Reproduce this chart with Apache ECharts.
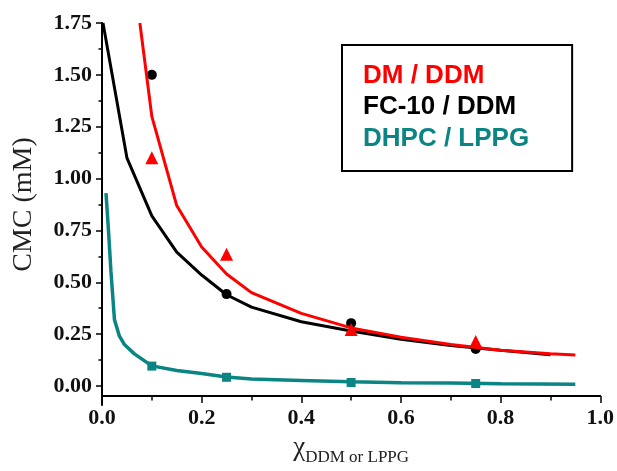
<!DOCTYPE html>
<html>
<head>
<meta charset="utf-8">
<script src="https://cdn.jsdelivr.net/npm/echarts@6/dist/echarts.min.js"></script>
<style>html,body{margin:0;padding:0;background:#fff}#c{width:617px;height:471px}</style>
</head>
<body>
<div id="c"></div>
<script>
// ---- data ----
var legendNames = ['DM / DDM', 'FC-10 / DDM', 'DHPC / LPPG'];

// fitted curves [x, CMC]
var dmLine = [[0.076,1.75],[0.1,1.30],[0.15,0.87],[0.2,0.67],[0.25,0.54],[0.3,0.45],[0.4,0.35],[0.5,0.28],[0.6,0.235],[0.7,0.2],[0.8,0.172],[0.9,0.155],[0.95,0.15]];
var fcLine = [[0.002,1.75],[0.05,1.10],[0.1,0.82],[0.15,0.645],[0.2,0.535],[0.25,0.44],[0.3,0.38],[0.4,0.31],[0.5,0.265],[0.6,0.225],[0.7,0.195],[0.8,0.172],[0.9,0.151]];
var dhpcLine = [[0.008,0.93],[0.013,0.75],[0.018,0.55],[0.025,0.32],[0.035,0.24],[0.045,0.2],[0.065,0.155],[0.1,0.097],[0.15,0.075],[0.2,0.06],[0.25,0.043],[0.3,0.034],[0.4,0.027],[0.5,0.02],[0.6,0.016],[0.7,0.014],[0.8,0.011],[0.95,0.009]];

// measured points
var dmPts = [[0.1,1.10],[0.25,0.635],[0.5,0.272],[0.75,0.215]];
var fcPts = [[0.1,1.50],[0.25,0.443],[0.5,0.303],[0.75,0.178]];
var dhpcPts = [[0.1,0.096],[0.25,0.042],[0.5,0.017],[0.75,0.012]];

var yTicks = {min: 0, max: 1.75, interval: 0.25};
var xTicks = {min: 0, max: 1.0, interval: 0.2};

var RED = '#ff0000', BLACK = '#000000', TEAL = '#0b8583';
var serif = '"Liberation Serif", "Times New Roman", serif';
var sans = '"Liberation Sans", Arial, sans-serif';

var chart = echarts.init(document.getElementById('c'));
chart.setOption({
  animation: false,
  backgroundColor: '#ffffff',
  grid: [
    {left: 102, right: 16, top: 23, bottom: 76},
    {left: 102, right: 16, top: 23, bottom: 66}
  ],
  legend: {
    show: true,
    data: [
      {name: legendNames[0], textStyle: {color: RED}},
      {name: legendNames[1], textStyle: {color: BLACK}},
      {name: legendNames[2], textStyle: {color: TEAL}}
    ],
    orient: 'vertical',
    left: 342, top: 45,
    itemWidth: 0, itemHeight: 0,
    itemGap: 5.5,
    selectedMode: false,
    padding: [17.5, 43, 19.5, 15],
    borderColor: '#000', borderWidth: 2,
    textStyle: {fontFamily: sans, fontWeight: 'bold', fontSize: 26}
  },
  xAxis: [{
    gridIndex: 0, type: 'value', min: xTicks.min, max: xTicks.max, interval: xTicks.interval,
    offset: 10,
    axisLine: {onZero: false, lineStyle: {color: '#000', width: 2}},
    axisTick: {show: true, inside: false, length: 7, lineStyle: {color: '#000', width: 1.5}},
    minorTick: {show: true, splitNumber: 2, length: 4.5, lineStyle: {color: '#000', width: 1.5}},
    splitLine: {show: false},
    axisLabel: {margin: 11, fontFamily: serif, fontWeight: 'bold', fontSize: 22, color: '#111',
      formatter: function (v) { return v.toFixed(1); }},
    name: '{c|χ}{s|DDM or LPPG}',
    nameLocation: 'middle', nameGap: 38,
    nameTextStyle: {rich: {
      c: {fontFamily: serif, fontSize: 27, color: '#222', verticalAlign: 'bottom', padding: [0, 0, 5, 0]},
      s: {fontFamily: serif, fontSize: 17, color: '#222', verticalAlign: 'bottom'}
    }}
  }, {
    gridIndex: 1, type: 'value', min: 0, max: 1, show: false
  }],
  yAxis: [{
    gridIndex: 0, type: 'value', min: yTicks.min, max: yTicks.max, interval: yTicks.interval,
    axisLine: {show: true, onZero: false, lineStyle: {color: '#000', width: 2}},
    axisTick: {show: true, inside: false, length: 6, lineStyle: {color: '#000', width: 1.5}},
    minorTick: {show: true, splitNumber: 2, length: 3.5, lineStyle: {color: '#000', width: 1.5}},
    splitLine: {show: false},
    axisLabel: {margin: 10, fontFamily: serif, fontWeight: 'bold', fontSize: 22, color: '#111',
      formatter: function (v) { return v.toFixed(2); }},
    name: 'CMC (mM)', nameLocation: 'middle', nameGap: 64,
    nameTextStyle: {fontFamily: serif, fontSize: 28, color: '#222'}
  }, {
    gridIndex: 1, type: 'value', min: 0, max: 1,
    axisLine: {show: true, onZero: false, lineStyle: {color: '#000', width: 2}},
    axisTick: {show: false}, axisLabel: {show: false}, splitLine: {show: false}
  }],
  series: [
    {name: legendNames[1], type: 'line', data: fcLine, showSymbol: false, symbol: 'none',
      lineStyle: {color: BLACK, width: 3}, itemStyle: {color: BLACK}, z: 2},
    {name: 'fc-pts', type: 'scatter', data: fcPts, symbol: 'circle', symbolSize: 10,
      itemStyle: {color: BLACK, opacity: 1}, z: 3},
    {name: legendNames[0], type: 'line', data: dmLine, showSymbol: false, symbol: 'none',
      lineStyle: {color: RED, width: 3}, itemStyle: {color: RED}, z: 4},
    {name: 'dm-pts', type: 'scatter', data: dmPts, symbol: 'triangle', symbolSize: 13,
      itemStyle: {color: RED, opacity: 1}, z: 5},
    {name: legendNames[2], type: 'line', data: dhpcLine, showSymbol: false, symbol: 'none',
      lineStyle: {color: TEAL, width: 3.5}, itemStyle: {color: TEAL}, z: 4},
    {name: 'dhpc-pts', type: 'scatter', data: dhpcPts, symbol: 'rect', symbolSize: 9,
      itemStyle: {color: TEAL, opacity: 1}, z: 5}
  ]
});
</script>
</body>
</html>
